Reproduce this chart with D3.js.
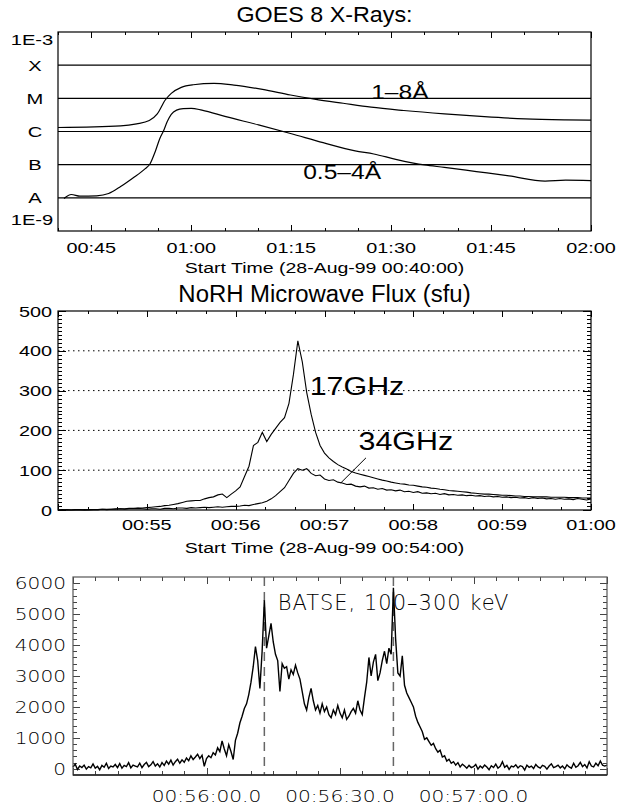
<!DOCTYPE html>
<html>
<head>
<meta charset="utf-8">
<script src="https://cdnjs.cloudflare.com/ajax/libs/d3/7.8.5/d3.min.js"></script>
<style>
  body { margin: 0; background: #fff; }
  svg text { font-family: "Liberation Sans", Arial, Helvetica, sans-serif; fill: #000; }
  svg text.hershey { font-family: "DejaVu Sans ExtraLight", "DejaVu Sans", sans-serif; font-weight: 200; fill: #000; }
  .ticks line { stroke: #000; shape-rendering: crispEdges; }
</style>
</head>
<body>
<svg width="634" height="805"></svg>
<script>

// GOES 8, minutes after 00:40:00, flux in W/m^2
var goesTitle = "GOES 8 X-Rays:";
var goesSubtitle = "Start Time (28-Aug-99 00:40:00)";
var goesTickLabels = ["00:45", "01:00", "01:15", "01:30", "01:45", "02:00"];
var goesClassLabels = ["X", "M", "C", "B", "A"];
var goesClassFlux = [1e-4, 1e-5, 1e-6, 1e-7, 1e-8];
var goesLongMinutes = [0, 9.4, 11.8, 13.7, 14.9, 16.1, 17.0, 18.5, 20.3, 23.4, 26.4, 30.7, 34.9, 38.5, 42.8, 47.0, 51.9, 58.0, 64.0, 70.1, 76.2, 80];
var goesLongFlux = [1.32e-6, 1.48e-6, 1.70e-6, 2.14e-6, 3.39e-6, 8.9e-6, 1.41e-5, 2.14e-5, 2.57e-5, 2.82e-5, 2.51e-5, 1.86e-5, 1.26e-5, 9.5e-6, 7.1e-6, 5.4e-6, 4.3e-6, 3.4e-6, 2.8e-6, 2.4e-6, 2.24e-6, 2.19e-6];
var goesShortMinutes = [0.9, 2.0, 3.3, 5.8, 7.6, 9.4, 11.2, 13.1, 13.8, 14.6, 15.3, 15.8, 16.4, 17.0, 17.8, 18.8, 20.0, 21.6, 25.2, 30.1, 34.9, 39.8, 44.6, 47.4, 50.7, 55.0, 58.0, 62.8, 67.7, 73.1, 76.2, 80];
var goesShortFlux = [9.5e-9, 1.26e-8, 1.12e-8, 1.15e-8, 1.35e-8, 2.19e-8, 3.9e-8, 7.6e-8, 1.05e-7, 2.5e-7, 6.3e-7, 1.0e-6, 2.0e-6, 3.3e-6, 4.4e-6, 4.9e-6, 5.0e-6, 4.4e-6, 2.8e-6, 1.58e-6, 8.7e-7, 4.6e-7, 2.6e-7, 2.1e-7, 1.45e-7, 9.8e-8, 8.3e-8, 6.2e-8, 4.6e-8, 3.2e-8, 3.4e-8, 3.3e-8];

// NoRH, 3 s samples from 00:54:00, sfu
var norhTitle = "NoRH Microwave Flux (sfu)";
var norhSubtitle = "Start Time (28-Aug-99 00:54:00)";
var norhTickLabels = ["00:55", "00:56", "00:57", "00:58", "00:59", "01:00"];
var norhValueTicks = [0, 100, 200, 300, 400, 500];
var norhGrid = [100, 200, 300, 400];
var norh17 = [
  0, 0, 1, 0, 1, 1, 0, 1, 1, 1, 2, 2, 2, 3, 3, 3, 4, 4, 5, 5,
  6, 7, 8, 9, 11, 12, 14, 16, 19, 22, 23, 24, 24, 28, 31, 33, 38, 40, 31, 40,
  48, 58, 84, 110, 162, 170, 195, 172, 190, 205, 220, 232, 268, 340, 425, 372, 295, 240, 195, 162,
  143, 131, 122, 114, 108, 103, 97, 93, 90, 87, 84, 81, 78, 75, 73, 70, 68, 66, 65, 63,
  62, 60, 58, 57, 55, 54, 52, 51, 49, 48, 47, 46, 45, 43, 42, 41, 40, 40, 39, 38,
  37, 37, 36, 35, 35, 34, 34, 33, 33, 33, 33, 32, 32, 32, 32, 31, 31, 31, 30, 30, 30
];
var norh34 = [
  0, 1, 0, 0, 1, 0, 1, 0, 1, 1, 2, 1, 2, 2, 3, 2, 3, 3, 4, 3,
  2, 3, 3, 2, 4, 4, 3, 5, 5, 4, 6, 5, 6, 7, 6, 7, 8, 7, 8, 9,
  9, 10, 12, 11, 14, 16, 18, 22, 28, 36, 46, 56, 74, 92, 104, 100, 104, 92, 86, 88,
  78, 74, 76, 70, 68, 64, 65, 60, 58, 60, 55, 56, 52, 54, 50, 51, 48, 50, 46, 47,
  44, 46, 42, 43, 41, 42, 39, 41, 38, 39, 37, 38, 36, 37, 35, 36, 34, 35, 33, 34,
  32, 33, 31, 32, 30, 31, 29, 31, 29, 30, 28, 29, 27, 29, 27, 28, 26, 29, 27, 25, 28
];

// BATSE 100-300 keV, 0.5 s samples from 00:55:30, counts
var batseLabel = "BATSE, 100\u2013300 keV";
var batseTickLabels = ["00:56:00.0", "00:56:30.0", "00:57:00.0"];
var batseValueTicks = [0, 1000, 2000, 3000, 4000, 5000, 6000];
var batsePeakTimes = ["00:56:13", "00:56:42"];
var batseCounts = [
  60, 150, -20, 90, 40, 120, -10, 70, 30, 160, 20, 80, -30, 110, 50, 180, 10, 90, 60, 140,
  40, 170, 20, 110, 70, 200, 30, 120, 90, 60, 180, 40, 140, 210, 70, 130, 230, 90, 160, 60,
  200, 110, 250, 150, 280, 120, 230, 310, 180, 290, 210, 350, 260, 420, 300, 380, 470, 330, 440, 80,
  330, 420, 360, 520, 450, 680, 560, 900, 640, 420, 780, 560, 300, 920, 1150, 1480, 1700, 1950, 2100, 2400,
  2800, 3300, 3950, 3500, 2600, 3800, 5450, 3900, 4300, 4700, 4100, 3700, 3500, 2500, 3400, 3250, 3300, 2900, 3200, 3050,
  3350, 3100, 2900, 2500, 2100, 1900, 2300, 2600, 2200, 1900, 2050, 1800, 2100, 1850, 2000, 1750, 1650, 1900, 1750, 2050,
  1800, 1650, 1900, 1600, 1700, 1850, 1950, 1800, 2200, 1900, 1750, 2300, 2800, 3600, 3000, 3450, 3700, 2850, 3100, 3500,
  3800, 3400, 3900, 3700, 5850, 4200, 3100, 3000, 3650, 2700, 2450, 2300, 2150, 2000, 1700, 1500, 1350, 1200, 950, 1000,
  880, 760, 820, 650, 540, 600, 380, 420, 250, 310, 180, 230, 120, 200, 60, 150, 90, 20, 110, 40,
  70, 140, -10, 90, 30, 120, 60, -30, 100, 40, 150, 20, 80, 230, 50, 110, -20, 90, 60, 130,
  30, 100, 70, -40, 120, 50, 90, 10, 140, 60, 20, 110, 80, -10, 90, 160, 40, 70, 120, 30,
  90, 0, 130, 60, 20, 180, 50, 100, 210, 70, 140, 30, 230, 90, 60, 180, 100, 250, 120, 90, 120
];

var svg = d3.select("svg");
var parseHM = d3.utcParse("%H:%M");
var parseHMS = d3.utcParse("%H:%M:%S");

function after(base, seconds) {
  return new Date(+base + seconds * 1000);
}

// the small print of the original is drawn wider than it is tall
function place(x, y, sx) {
  return "translate(" + x + "," + y + ") scale(" + sx + ",1)";
}

function tickMarks(g, axis, transform) {
  g.append("g").attr("class", "ticks").attr("transform", transform)
      .call(axis.tickFormat(""))
      .call(function (s) { s.select(".domain").remove(); });
}

function frame(g, x, y, color) {
  g.append("rect")
      .attr("x", x.range()[0]).attr("y", y.range()[1])
      .attr("width", x.range()[1] - x.range()[0])
      .attr("height", y.range()[0] - y.range()[1])
      .attr("fill", "none").attr("stroke", color).attr("stroke-width", 1.2);
}

// ---------------- GOES ----------------
var goesStart = parseHM("00:40"), goesEnd = parseHM("02:00");
var gx = d3.scaleUtc().domain([goesStart, goesEnd]).range([58, 591]);
var gy = d3.scaleLog().domain([1e-9, 1e-3]).range([231, 32]);
var goes = svg.append("g");

goes.append("text").attr("transform", place(324.5, 22, 1.06)).attr("text-anchor", "middle")
    .style("font-size", "22px").text(goesTitle);

goes.selectAll("line.level").data(goesClassFlux).enter().append("line")
    .attr("class", "level")
    .attr("x1", gx.range()[0]).attr("x2", gx.range()[1])
    .attr("y1", function (d) { return gy(d); }).attr("y2", function (d) { return gy(d); })
    .attr("stroke", "#000").attr("stroke-width", 1.2);

goes.selectAll("text.level").data(goesClassFlux).enter().append("text")
    .attr("class", "level")
    .attr("transform", function (d) { return place(35, gy(d), 1.3); }).attr("dy", "0.36em")
    .attr("text-anchor", "middle").style("font-size", "15.5px")
    .text(function (d, i) { return goesClassLabels[i]; });

goes.selectAll("text.range").data(gy.domain()).enter().append("text")
    .attr("class", "range")
    .attr("transform", function (d) { return place(32, gy(d) + (d < 1e-6 ? -12 : 7), 1.3); })
    .attr("dy", "0.36em").attr("text-anchor", "middle").style("font-size", "15.5px")
    .text(function (d) { return "1E" + Math.round(Math.log10(d)); });

tickMarks(goes, d3.axisBottom(gx).ticks(d3.utcMinute.every(15)).tickSize(-6), "translate(0," + gy.range()[0] + ")");
tickMarks(goes, d3.axisBottom(gx).ticks(d3.utcMinute.every(5)).tickSize(-3), "translate(0," + gy.range()[0] + ")");
tickMarks(goes, d3.axisTop(gx).ticks(d3.utcMinute.every(15)).tickSize(-6), "translate(0," + gy.range()[1] + ")");
tickMarks(goes, d3.axisTop(gx).ticks(d3.utcMinute.every(5)).tickSize(-3), "translate(0," + gy.range()[1] + ")");

goes.selectAll("text.tick").data(goesTickLabels).enter().append("text")
    .attr("class", "tick")
    .attr("transform", function (d) { return place(gx(parseHM(d)), 253, 1.28); })
    .attr("text-anchor", "middle").style("font-size", "15.5px").text(function (d) { return d; });
goes.append("text").attr("transform", place(324.5, 273, 1.3)).attr("text-anchor", "middle")
    .style("font-size", "15px").text(goesSubtitle);

var goesLine = d3.line()
    .x(function (d) { return gx(after(goesStart, d[0] * 60)); })
    .y(function (d) { return gy(d[1]); })
    .curve(d3.curveMonotoneX);

[[goesLongMinutes, goesLongFlux], [goesShortMinutes, goesShortFlux]].forEach(function (s) {
  goes.append("path")
      .attr("d", goesLine(d3.zip(s[0], s[1])))
      .attr("fill", "none").attr("stroke", "#000").attr("stroke-width", 1.2);
});

goes.append("text").attr("transform", place(gx(after(goesStart, 47.0 * 60)), gy(9.3e-6), 1.23))
    .style("font-size", "20px").text("1\u20138\u00c5");
goes.append("text").attr("transform", place(gx(after(goesStart, 36.8 * 60)), gy(3.8e-8), 1.23))
    .style("font-size", "20px").text("0.5\u20134\u00c5");

frame(goes, gx, gy, "#000");

// ---------------- NoRH ----------------
var norhStart = parseHMS("00:54:00"), norhEnd = parseHMS("01:00:00");
var nx = d3.scaleUtc().domain([norhStart, norhEnd]).range([58, 591]);
var ny = d3.scaleLinear().domain([0, 500]).range([510, 311]);
var norh = svg.append("g");

norh.append("text").attr("transform", place(324.5, 302, 1.04)).attr("text-anchor", "middle")
    .style("font-size", "23px").text(norhTitle);

norh.selectAll("line.grid").data(norhGrid).enter().append("line")
    .attr("class", "grid")
    .attr("x1", nx.range()[0]).attr("x2", nx.range()[1])
    .attr("y1", function (d) { return ny(d); }).attr("y2", function (d) { return ny(d); })
    .attr("stroke", "#000").attr("stroke-width", 1).attr("stroke-dasharray", "1.5,3.5");

tickMarks(norh, d3.axisLeft(ny).tickValues(norhValueTicks).tickSize(-8), "translate(" + nx.range()[0] + ",0)");
tickMarks(norh, d3.axisLeft(ny).tickValues(d3.range(0, 501, 10)).tickSize(-4), "translate(" + nx.range()[0] + ",0)");
tickMarks(norh, d3.axisRight(ny).tickValues(norhValueTicks).tickSize(-8), "translate(" + nx.range()[1] + ",0)");
tickMarks(norh, d3.axisRight(ny).tickValues(d3.range(0, 501, 10)).tickSize(-4), "translate(" + nx.range()[1] + ",0)");
tickMarks(norh, d3.axisBottom(nx).ticks(d3.utcMinute.every(1)).tickSize(-6), "translate(0," + ny.range()[0] + ")");
tickMarks(norh, d3.axisBottom(nx).ticks(d3.utcSecond.every(20)).tickSize(-3), "translate(0," + ny.range()[0] + ")");
tickMarks(norh, d3.axisTop(nx).ticks(d3.utcMinute.every(1)).tickSize(-6), "translate(0," + ny.range()[1] + ")");
tickMarks(norh, d3.axisTop(nx).ticks(d3.utcSecond.every(20)).tickSize(-3), "translate(0," + ny.range()[1] + ")");

norh.selectAll("text.value").data(norhValueTicks).enter().append("text")
    .attr("class", "value")
    .attr("transform", function (d) { return place(52, ny(d), 1.28); }).attr("dy", "0.36em")
    .attr("text-anchor", "end").style("font-size", "15.5px").text(function (d) { return d; });
norh.selectAll("text.tick").data(norhTickLabels).enter().append("text")
    .attr("class", "tick")
    .attr("transform", function (d) { return place(nx(parseHM(d)), 530, 1.28); })
    .attr("text-anchor", "middle").style("font-size", "15.5px").text(function (d) { return d; });
norh.append("text").attr("transform", place(324.5, 553, 1.3)).attr("text-anchor", "middle")
    .style("font-size", "15px").text(norhSubtitle);

var norhLine = d3.line()
    .x(function (d, i) { return nx(after(norhStart, i * 3)); })
    .y(function (d) { return ny(d); });
[norh17, norh34].forEach(function (s) {
  norh.append("path").attr("d", norhLine(s))
      .attr("fill", "none").attr("stroke", "#000").attr("stroke-width", 1.1);
});

norh.append("text").attr("transform", place(nx(after(norhStart, 170)), ny(289), 1.17))
    .style("font-size", "26px").text("17GHz");
norh.append("text").attr("transform", place(nx(after(norhStart, 203)), ny(151), 1.17))
    .style("font-size", "26px").text("34GHz");
norh.append("line")
    .attr("x1", nx(after(norhStart, 208))).attr("y1", ny(131))
    .attr("x2", nx(after(norhStart, 191))).attr("y2", ny(68))
    .attr("stroke", "#000").attr("stroke-width", 1);

frame(norh, nx, ny, "#000");

// ---------------- BATSE ----------------
var batseStart = parseHMS("00:55:30"), batseEnd = parseHMS("00:57:30");
var bx = d3.scaleUtc().domain([batseStart, batseEnd]).range([73, 607]);
var by = d3.scaleLinear().domain([-200, 6200]).range([775, 577]);
var batse = svg.append("g");

tickMarks(batse, d3.axisLeft(by).tickValues(batseValueTicks).tickSize(-7), "translate(" + bx.range()[0] + ",0)");
tickMarks(batse, d3.axisLeft(by).tickValues(d3.range(0, 6001, 200)).tickSize(-4), "translate(" + bx.range()[0] + ",0)");
tickMarks(batse, d3.axisRight(by).tickValues(batseValueTicks).tickSize(-7), "translate(" + bx.range()[1] + ",0)");
tickMarks(batse, d3.axisRight(by).tickValues(d3.range(0, 6001, 200)).tickSize(-4), "translate(" + bx.range()[1] + ",0)");
tickMarks(batse, d3.axisBottom(bx).ticks(d3.utcSecond.every(30)).tickSize(-7), "translate(0," + by.range()[0] + ")");
tickMarks(batse, d3.axisBottom(bx).ticks(d3.utcSecond.every(5)).tickSize(-4), "translate(0," + by.range()[0] + ")");
tickMarks(batse, d3.axisTop(bx).ticks(d3.utcSecond.every(30)).tickSize(-7), "translate(0," + by.range()[1] + ")");
tickMarks(batse, d3.axisTop(bx).ticks(d3.utcSecond.every(5)).tickSize(-4), "translate(0," + by.range()[1] + ")");
batse.selectAll(".ticks line").style("stroke", "#444");

batse.selectAll("line.peak").data(batsePeakTimes).enter().append("line")
    .attr("class", "peak")
    .attr("x1", function (d) { return bx(parseHMS(d)); }).attr("x2", function (d) { return bx(parseHMS(d)); })
    .attr("y1", by.range()[1]).attr("y2", by.range()[0])
    .attr("stroke", "#666").attr("stroke-width", 1.5).attr("stroke-dasharray", "9,6");

batse.append("path")
    .attr("d", d3.line()
        .x(function (d, i) { return bx(after(batseStart, i * 0.5)); })
        .y(function (d) { return by(d); })(batseCounts))
    .attr("fill", "none").attr("stroke", "#000").attr("stroke-width", 1.4);

batse.selectAll("text.value").data(batseValueTicks).enter().append("text")
    .attr("class", "value hershey")
    .attr("transform", function (d) { return place(66, by(d), 1.22); }).attr("dy", "0.36em")
    .attr("text-anchor", "end").style("font-size", "16.5px").text(function (d) { return d; });
batse.selectAll("text.tick").data(batseTickLabels).enter().append("text")
    .attr("class", "tick hershey")
    .attr("transform", function (d) { return place(bx(parseHMS(d.slice(0, 8))), 802, 1.22); })
    .attr("text-anchor", "middle").style("font-size", "16.5px").text(function (d) { return d; });
batse.append("text").attr("class", "hershey")
    .attr("transform", place(bx(after(batseStart, 46)), by(5130), 1))
    .style("font-size", "21px").style("letter-spacing", "1px").text(batseLabel);

batse.append("rect")
    .attr("x", bx.range()[0]).attr("y", by.range()[1])
    .attr("width", bx.range()[1] - bx.range()[0]).attr("height", by.range()[0] - by.range()[1])
    .attr("fill", "none").attr("stroke", "#555").attr("stroke-width", 1.2);
batse.append("line")
    .attr("x1", bx.range()[0]).attr("x2", bx.range()[1])
    .attr("y1", by.range()[0]).attr("y2", by.range()[0])
    .attr("stroke", "#222").attr("stroke-width", 1.6);
</script>
</body>
</html>
